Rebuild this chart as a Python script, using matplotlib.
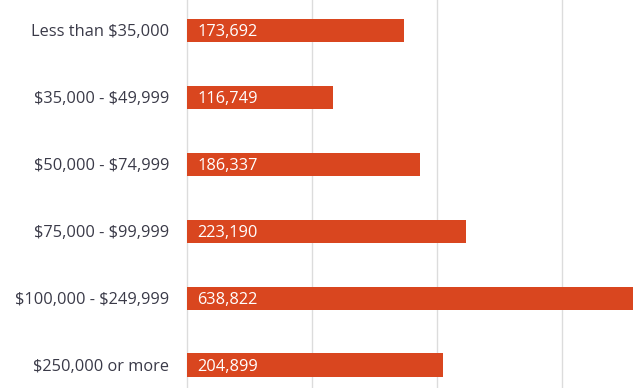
import matplotlib
matplotlib.use("Agg")
import matplotlib.pyplot as plt

categories = ["Less than $35,000", "$35,000 - $49,999", "$50,000 - $74,999",
              "$75,000 - $99,999", "$100,000 - $249,999", "$250,000 or more"]
values = [173692, 116749, 186337, 223190, 638822, 204899]
value_labels = ["173,692", "116,749", "186,337", "223,190", "638,822", "204,899"]

plt.rcParams['font.family'] = ['Open Sans', 'DejaVu Sans']

W, H = 639, 388
fig = plt.figure(figsize=(W / 100, H / 100), dpi=100)
left_px, right_px = 187, 633
ax = fig.add_axes([left_px / W, 0, (right_px - left_px) / W, 1])

px_per_100k = 125.0
xmax = (right_px - left_px) / px_per_100k * 100000
ax.set_xlim(0, xmax)

spacing = 66.9
first_center = 30.5
ax.set_ylim((H - first_center) / spacing, -first_center / spacing)

y = list(range(len(categories)))
ax.barh(y, values, height=0.345, color="#d9461f", zorder=3)

for yi, lab in zip(y, value_labels):
    ax.text(8000, yi, lab, color="white", fontsize=11.8, va="center_baseline", ha="left", zorder=4)

ax.set_xticks([100000, 200000, 300000])
ax.xaxis.grid(True, color="#dcdcdc", linewidth=1.0, zorder=0)
ax.tick_params(axis="x", length=0, labelbottom=False)
ax.set_yticks(y)
ax.set_yticklabels([c.replace("$", r"\$") for c in categories], fontsize=11.8, color="#3a3a48",
                   va="center_baseline")
ax.tick_params(axis="y", length=0, pad=13)

for s in ["top", "right", "bottom"]:
    ax.spines[s].set_visible(False)
ax.spines["left"].set_color("#dcdcdc")
ax.spines["left"].set_linewidth(1.0)

fig.savefig("out.png", dpi=100)
